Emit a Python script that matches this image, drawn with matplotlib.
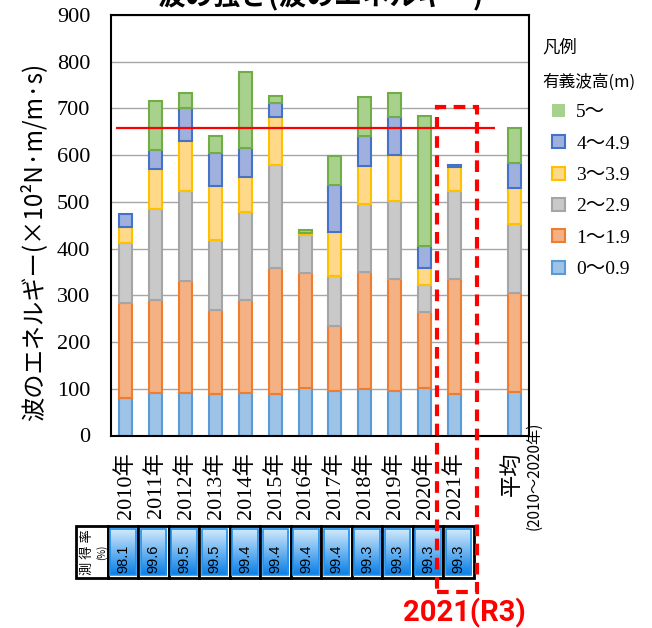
import matplotlib.pyplot as plt
import numpy as np
from matplotlib.patches import Rectangle
from matplotlib.colors import LinearSegmentedColormap

# Serif for numbers, CJK font for the kanji/kana
SERIF = ['Liberation Serif', 'Noto Sans CJK JP']
plt.rcParams['font.family'] = SERIF
JP = ['Noto Sans CJK JP', 'DejaVu Sans']

# ---------------------------------------------------------------
# Data: wave energy per significant wave height band (x10^2 N·m/m·s)
# 2010..2021, then the 2010-2020 average
# ---------------------------------------------------------------
years = ['2010年', '2011年', '2012年', '2013年', '2014年', '2015年',
         '2016年', '2017年', '2018年', '2019年', '2020年', '2021年']
avg_label = '平均'
avg_period = '(2010～2020年)'
bands = ['0～0.9', '1～1.9', '2～2.9', '3～3.9', '4～4.9', '5～']

h0 = [80, 90, 91, 88, 91, 88, 101, 96, 100, 96, 101, 89, 94]
h1 = [204, 201, 240, 180, 200, 270, 246, 138, 251, 240, 163, 245, 210]
h2 = [127, 193, 192, 151, 187, 222, 82, 107, 145, 165, 58, 190, 148]
h3 = [35, 87, 107, 116, 75, 101, 4, 95, 80, 100, 37, 51, 78]
h4 = [28, 39, 72, 69, 63, 30, 0, 101, 65, 80, 47, 4, 54]
h5 = [0, 106, 32, 38, 163, 15, 6, 61, 84, 53, 278, 0, 75]

# data acquisition rate (%)
rates = [98.1, 99.6, 99.5, 99.5, 99.4, 99.4, 99.4, 99.4, 99.3, 99.3, 99.3, 99.3]

series = [h0, h1, h2, h3, h4, h5]
faces = ['#9dc3e6', '#f4b183', '#c9c9c9', '#ffd98a', '#9fb0df', '#a9d18e']
edges = ['#5b9bd5', '#ed7d31', '#a5a5a5', '#ffc000', '#4472c4', '#70ad47']

xpos = np.r_[np.arange(len(years)), len(years) + 1]  # gap before average
avg_total = sum(s[-1] for s in series)

# ---------------------------------------------------------------
# Figure
# ---------------------------------------------------------------
fig = plt.figure(figsize=(6.52, 6.28), dpi=100)
ax = fig.add_axes([111 / 652, 192.5 / 628, 418 / 652, 420.5 / 628])

bottom = np.zeros(len(xpos))
handles = []
for vals, fc, ec, lab in zip(series, faces, edges, bands):
    vals = np.asarray(vals, dtype=float)
    lw = np.where(vals > 0, 1.5, 0)
    b = ax.bar(xpos, vals, bottom=bottom, width=0.44, color=fc,
               edgecolor=ec, linewidth=lw, label=lab, zorder=2)
    handles.append(b)
    bottom += vals

# average line over the yearly bars
ax.hlines(avg_total, -0.33, 12.36, color='#ff0000', lw=1.6, zorder=3)

ax.set_xlim(-0.5, 13.5)
ax.set_ylim(0, 900)
ax.set_yticks(np.arange(0, 901, 100))
ax.set_yticklabels([str(v) for v in range(0, 901, 100)],
                   family='Liberation Serif', fontsize=16)
ax.yaxis.grid(True, color='#a6a6a6', lw=1)
ax.set_axisbelow(True)
for sp in ax.spines.values():
    sp.set_linewidth(1.5)
    sp.set_color('k')

ax.set_xticks(np.arange(len(years)))
ax.set_xticklabels(years, rotation=90, fontsize=16, family=SERIF)
ax.tick_params(axis='both', length=0)
ax.tick_params(axis='x', pad=12)
ax.tick_params(axis='y', pad=15)

# average column label
ax.text(12.92, -34, avg_label, rotation=90, ha='center', va='top',
        fontsize=16, family=JP)
ax.text(13.68, 29, avg_period, rotation=90, ha='center', va='top',
        fontsize=11, family=JP, clip_on=False)

fig.text(34 / 652, 0.615, '波のエネルギー(×10²N·m/m·s)', rotation=90,
         ha='center', va='center', fontsize=17.5, family=JP)

fig.text(320 / 652, 1 - 4 / 628, '波の強さ(波のエネルギー)', ha='center',
         va='baseline', fontsize=20, fontweight='bold', family=JP)

# legend
fig.text(542 / 652, 1 - 48 / 628, '凡例', ha='left', va='center',
         fontsize=12.5, family=JP)
fig.text(542 / 652, 1 - 82 / 628, '有義波高(m)', ha='left', va='center',
         fontsize=12, family=JP)
ax.legend(handles[::-1], bands[::-1], loc='upper left',
          bbox_to_anchor=(552 / 652, 1 - 104 / 628),
          bbox_transform=fig.transFigure, frameon=False, borderpad=0,
          borderaxespad=0, handlelength=0.65, handleheight=0.65,
          handletextpad=0.6, labelspacing=0.72,
          prop={'family': SERIF, 'size': 14})

# ---------------------------------------------------------------
# Acquisition-rate strip under the year labels
# ---------------------------------------------------------------
tab = fig.add_axes([111 / 652, 50 / 628, 418 / 652, 52 / 628])
tab.set_xlim(ax.get_xlim())
tab.set_ylim(0, 1)
tab.axis('off')

cmap = LinearSegmentedColormap.from_list('cell', ['#0a7fe6', '#d4ebfb'])
grad = np.linspace(0, 1, 64).reshape(-1, 1)
cw = 1.022
x0 = -0.61
tab.add_patch(Rectangle((-1.67, 0), x0 + 1.67, 1, fc='white', ec='k',
                        lw=2, clip_on=False))
tab.text(-1.3, 0.5, '測 得 率', rotation=90, ha='center', va='center',
         fontsize=9.5, family=JP, clip_on=False)
tab.text(-0.82, 0.5, '(%)', rotation=90, ha='center', va='center',
         fontsize=7, family=JP, clip_on=False)
for i, r in enumerate(rates):
    left = x0 + i * cw
    tab.add_patch(Rectangle((left, 0), cw, 1, fc='white', ec='k', lw=2,
                            clip_on=False, zorder=1))
    il, ir = left + 0.085, left + cw - 0.085
    ib, it = 0.05, 0.94
    tab.imshow(grad, extent=(il, ir, ib, it), cmap=cmap, origin='lower',
               aspect='auto', zorder=2, clip_on=False)
    tab.add_patch(Rectangle((il, ib), ir - il, it - ib, fc='none',
                            ec='#1e90f0', lw=1.2, zorder=3, clip_on=False))
    tab.text(left + cw / 2, 0.36, f'{r:.1f}', rotation=90, ha='center',
             va='center', fontsize=10.5, family='Liberation Sans', zorder=4)

# ---------------------------------------------------------------
# Highlight for the latest year
# ---------------------------------------------------------------
hl = Rectangle((10.42, -335), 1.34, 1038, transform=ax.transData, fill=False,
               ec='#ff0000', lw=3, ls=(0, (2.8, 1.8)), clip_on=False, zorder=5)
fig.add_artist(hl)
fig.text(464 / 652, 1 - 613 / 628, '2021(R3)', ha='center', va='center',
         fontsize=21, fontweight='bold', color='#ff0000',
         family=['Roboto', 'Liberation Sans'])

fig.savefig('out.png', dpi=100)
